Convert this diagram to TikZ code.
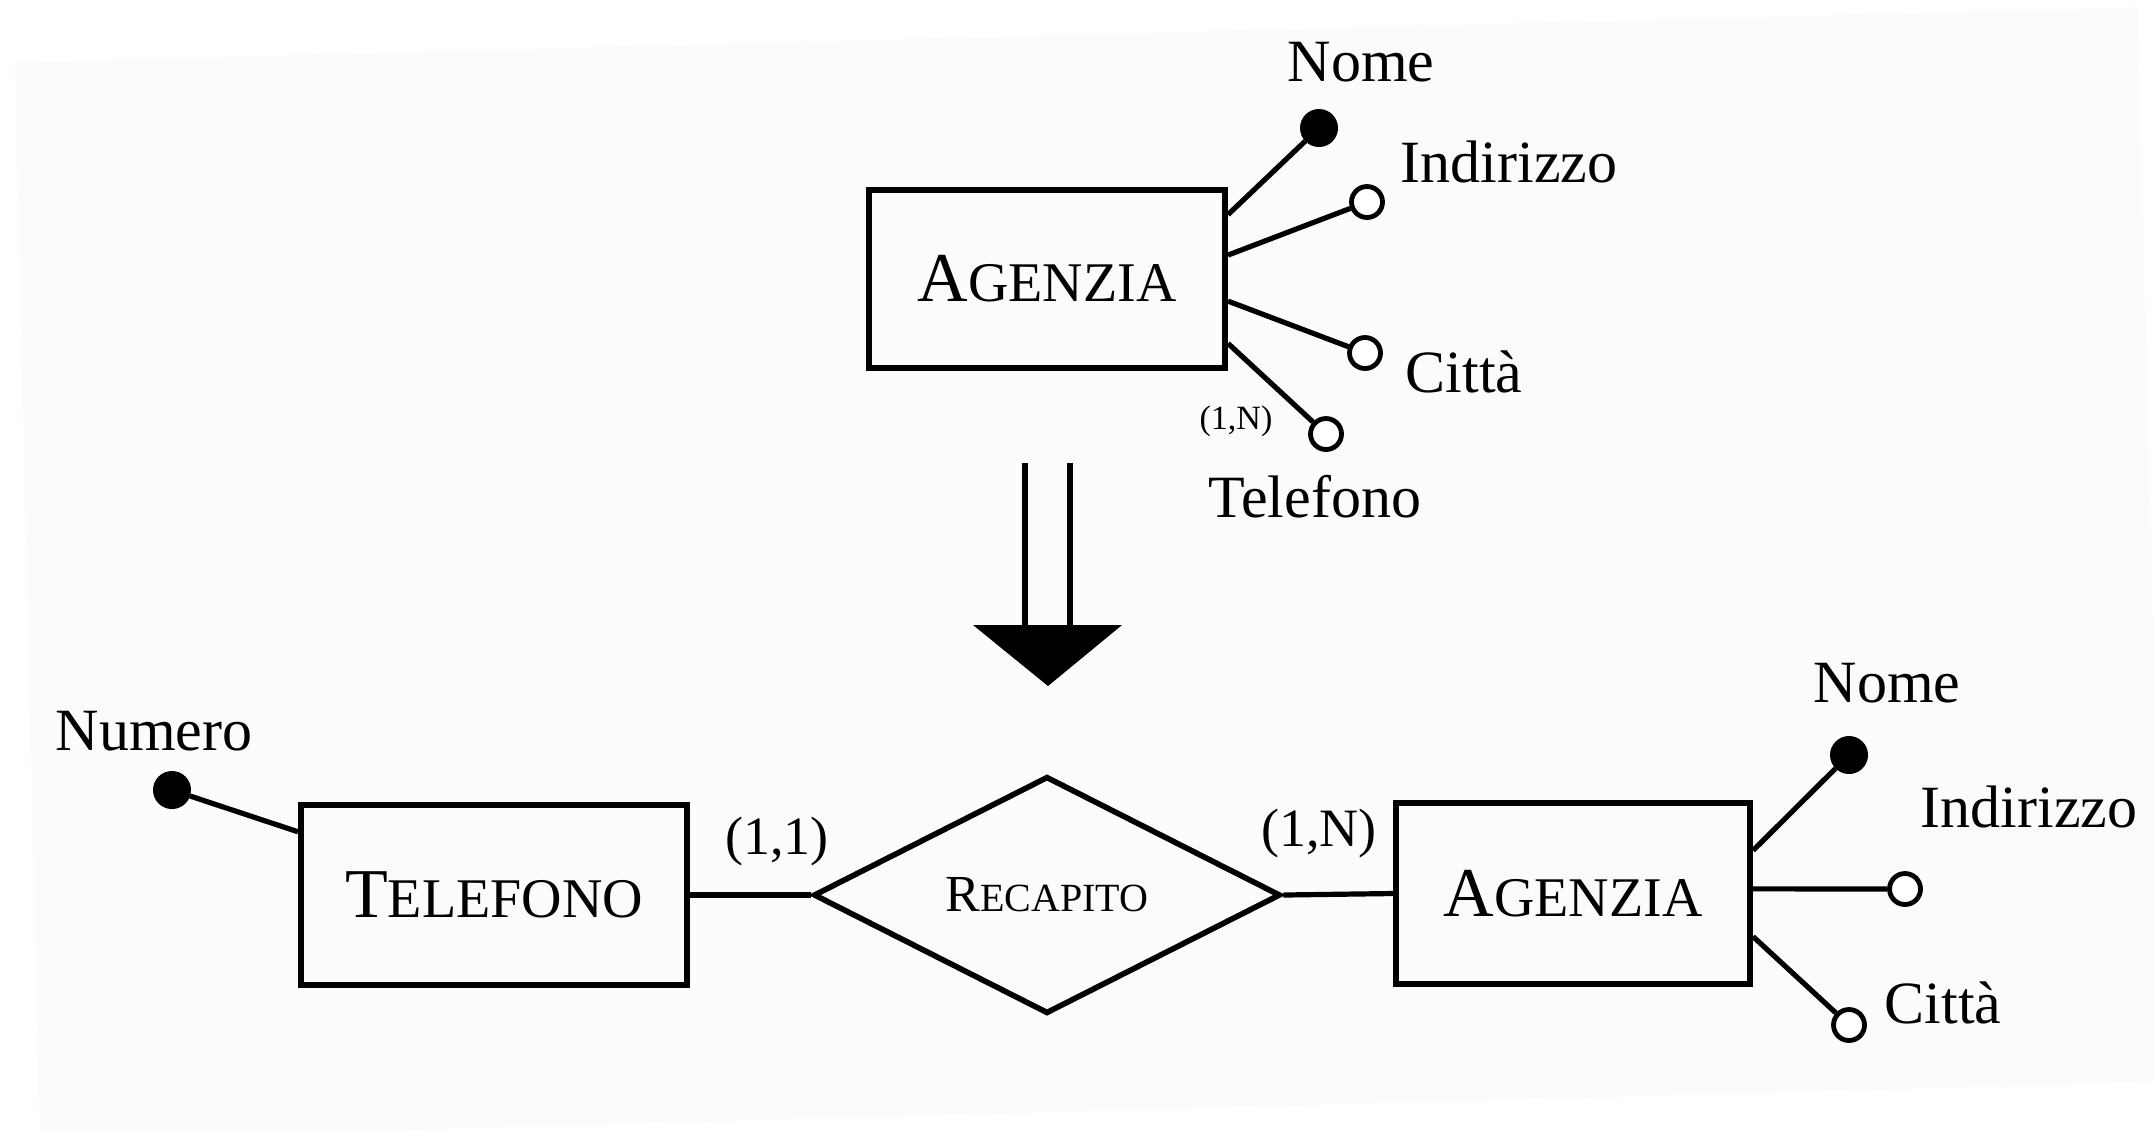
\documentclass[tikz,border=0pt]{standalone}
\usepackage{fontspec}
\setmainfont{Liberation Serif}
\usetikzlibrary{shapes.geometric,calc}

% two-size capitals: large first letter, smaller remaining capitals
\newcommand{\twocaps}[4]{{\fontsize{#1}{#1}\selectfont #3}{\fontsize{#2}{#2}\selectfont #4}}

\definecolor{pagegrey}{HTML}{FBFBFB}

\tikzset{
  entity/.style={draw, line width=3pt, rectangle, inner sep=0pt},
  relation/.style={draw, line width=2.8pt, diamond, inner sep=0pt},
  link/.style={line width=2.6pt},
  keyattr/.style={circle, fill=black, draw=black, line width=1pt, minimum size=18pt, inner sep=0pt},
  plainattr/.style={circle, draw=black, fill=white, line width=2.4pt, minimum size=15.5pt, inner sep=0pt},
  attrlabel/.style={font=\fontsize{30}{30}\selectfont, inner sep=0pt},
  cardlabel/.style={font=\fontsize{27}{27}\selectfont, inner sep=0pt},
  smallcard/.style={font=\fontsize{17}{17}\selectfont, inner sep=0pt},
  shaft/.style={line width=3.4pt}
}

\begin{document}
\begin{tikzpicture}[x=0.5pt,y=-0.5pt]
  \useasboundingbox (0,0) rectangle (2155,1132);
  % scanned sheet
  \fill[pagegrey] (15,62) -- (2137,7) -- (2165,1082) -- (40,1140) -- cycle;

  % ---------- upper schema: AGENZIA with multivalued Telefono ----------
  \node[entity, minimum width=178pt, minimum height=89pt] (ag1) at (1047,279)
    {\twocaps{35}{28}{A}{GENZIA}};

  \node[keyattr]   (n1) at (1319,128) {};
  \node[plainattr] (i1) at (1367,202) {};
  \node[plainattr] (c1) at (1365,353) {};
  \node[plainattr] (t1) at (1326,434) {};

  \draw[link] ($(ag1.north east)!0.15!(ag1.south east)$) -- (n1);
  \draw[link] ($(ag1.north east)!0.37!(ag1.south east)$) -- (i1);
  \draw[link] ($(ag1.north east)!0.62!(ag1.south east)$) -- (c1);
  \draw[link] ($(ag1.north east)!0.85!(ag1.south east)$) -- (t1);

  \node[attrlabel] (ln1) at (1361,62)  {Nome};
  \node[attrlabel] (li1) at (1509,162) {Indirizzo};
  \node[attrlabel] (lc1) at (1464,372) {Città};
  \node[attrlabel] (lt1) at (1315,497) {Telefono};
  \node[smallcard] (k1)  at (1236,421) {(1,N)};

  % ---------- transformation arrow ----------
  \coordinate (sa) at (1025,463);
  \coordinate (sb) at (1070,463);
  \coordinate (hl) at (973,625);
  \coordinate (hr) at (1122,625);
  \coordinate (ht) at (1048,686);
  \draw[shaft] (sa) -- (sa |- hl);
  \draw[shaft] (sb) -- (sb |- hr);
  \fill (hl) -- (hr) -- (ht) -- cycle;

  % ---------- lower schema: TELEFONO -- RECAPITO -- AGENZIA ----------
  \node[entity, minimum width=193pt, minimum height=90pt] (tel) at (494,895)
    {\twocaps{35}{28}{T}{ELEFONO}};
  \node[relation, minimum width=233.5pt, minimum height=118pt] (rec) at (1047,895)
    {\twocaps{26}{20}{R}{ECAPITO}};
  \node[entity, minimum width=177pt, minimum height=90.5pt] (ag2) at (1573,893.5)
    {\twocaps{35}{28}{A}{GENZIA}};

  \draw[link] (tel.east) -- (rec.west);
  \draw[link] (rec.east) -- (ag2.west);
  \node[cardlabel] (k2) at (777,841) {(1,1)};
  \node[cardlabel] (k3) at (1319,833) {(1,N)};

  \node[keyattr] (nu) at (172,790) {};
  \draw[link] ($(tel.north west)!0.16!(tel.south west)$) -- (nu);
  \node[attrlabel] (lnu) at (154,731) {Numero};

  \node[keyattr]   (n2) at (1849,755) {};
  \node[plainattr] (i2) at (1905,889) {};
  \node[plainattr] (c2) at (1849,1025) {};

  \draw[link] ($(ag2.north east)!0.27!(ag2.south east)$) -- (n2);
  \draw[link] ($(ag2.north east)!0.475!(ag2.south east)$) -- (i2);
  \draw[link] ($(ag2.north east)!0.73!(ag2.south east)$) -- (c2);

  \node[attrlabel] (ln2) at (1887,683)  {Nome};
  \node[attrlabel] (li2) at (2029,807)  {Indirizzo};
  \node[attrlabel] (lc2) at (1943,1003) {Città};
\end{tikzpicture}
\end{document}
